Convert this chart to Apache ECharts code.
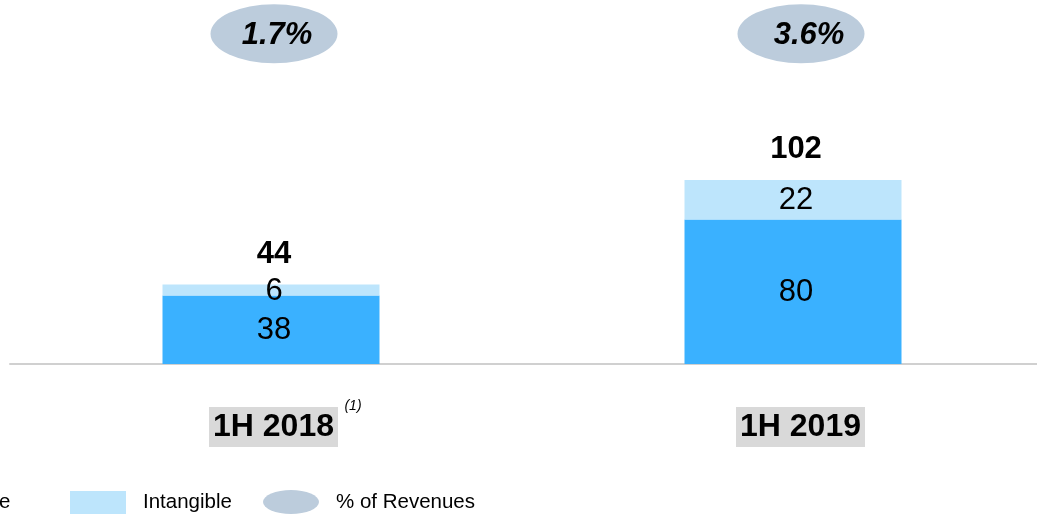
<!DOCTYPE html>
<html>
<head>
<meta charset="utf-8">
<script src="https://cdn.jsdelivr.net/npm/echarts@6/dist/echarts.min.js"></script>
<style>
html,body{margin:0;padding:0;background:#fff;}
#chart{width:1037px;height:517px;}
</style>
</head>
<body>
<div id="chart"></div>
<script>
// ---- data ----
const categories = ['1H 2018', '1H 2019'];
const tangible = [38, 80];
const intangible = [6, 22];
const pctOfRevenues = ['1.7%', '3.6%'];
const footnotes = ['(1)', ''];

const totals = categories.map((c, i) => tangible[i] + intangible[i]);
const yMax = 200;
const ellipseLevel = yMax * 0.915;

const font = 'Liberation Sans, Arial, sans-serif';
const cTangible = '#3AB1FF';
const cIntangible = '#BDE5FC';
const cEllipse = '#BCCCDC';
const ellipseIcon = 'path://M0,12A28,12 0 1,0 56,12A28,12 0 1,0 0,12Z';

const chart = echarts.init(document.getElementById('chart'));

const legendText = { fontSize: 20.5, color: '#000', fontFamily: font, padding: [1, 0, 0, 12] };
const option = {
  animation: false,
  textStyle: { fontFamily: font },
  grid: { left: 10, width: 1044, top: 3, height: 361, outerBoundsMode: 'none', containLabel: false },
  legend: [
    { data: [{ name: 'Tangible', icon: 'rect' }], left: -139, top: 491, padding: 0, itemWidth: 56, itemHeight: 23,
      textStyle: legendText, selectedMode: false },
    { data: [{ name: 'Intangible', icon: 'rect' }], left: 70, top: 491, padding: 0, itemWidth: 56, itemHeight: 23,
      textStyle: legendText, selectedMode: false },
    { data: [{ name: '% of Revenues', icon: ellipseIcon }], left: 263, top: 490, padding: 0, itemWidth: 56, itemHeight: 24,
      textStyle: legendText, selectedMode: false }
  ],
  xAxis: {
    type: 'category',
    data: categories,
    axisLine: { lineStyle: { color: '#D0D0D0', width: 2 } },
    axisTick: { show: false },
    axisLabel: {
      margin: 35,
      interval: 0,
      formatter: (v, i) => i === 0 ? '{p1| }{a|' + v + '}{s|' + footnotes[0] + '}' : '{p2| }{a|' + v + '}',
      rich: {
        p1: { width: 31, lineHeight: 48, fontSize: 10 },
        p2: { width: 15, lineHeight: 48, fontSize: 10 },
        a: { fontSize: 32, fontWeight: 'bold', color: '#000', backgroundColor: '#D9D9D9',
             padding: [4, 4, 4, 4], lineHeight: 29, verticalAlign: 'bottom', fontFamily: font },
        s: { fontSize: 14, fontStyle: 'italic', color: '#000', width: 22, lineHeight: 16,
             verticalAlign: 'top', padding: [0, 0, 0, 4], fontFamily: font }
      }
    }
  },
  yAxis: {
    type: 'value', min: 0, max: yMax, show: false, splitLine: { show: false }
  },
  series: [
    {
      name: 'Tangible', type: 'bar', stack: 'capex', barWidth: 217, data: tangible,
      itemStyle: { color: cTangible },
      label: { show: true, position: 'inside', fontSize: 31, color: '#000', offset: [3, 1], fontFamily: font }
    },
    {
      name: 'Intangible', type: 'bar', stack: 'capex', barWidth: 217, data: intangible,
      itemStyle: { color: cIntangible },
      label: { show: true, position: 'inside', fontSize: 31, color: '#000', offset: [3, 1], fontFamily: font }
    },
    {
      name: 'Total', type: 'bar', barWidth: 217, barGap: '-100%', data: totals, z: 1, silent: true,
      itemStyle: { color: 'rgba(0,0,0,0)' },
      label: { show: true, position: 'top', distance: 15, fontSize: 31, fontWeight: 'bold', color: '#000', offset: [3, 0], fontFamily: font }
    },
    {
      name: '% of Revenues', type: 'scatter', symbol: 'circle', symbolSize: [127, 59],
      itemStyle: { color: cEllipse, opacity: 1 },
      data: pctOfRevenues.map((p, i) => ({
        value: [i, ellipseLevel],
        symbolOffset: [i === 0 ? 3 : 8, 0],
        label: { offset: [i === 0 ? 3 : 8, 2] }
      })),
      label: {
        show: true, position: 'inside', fontSize: 31, fontWeight: 'bold', fontStyle: 'italic', color: '#000',
        fontFamily: font,
        formatter: (p) => pctOfRevenues[p.dataIndex]
      }
    }
  ]
};
chart.setOption(option);
</script>
</body>
</html>
